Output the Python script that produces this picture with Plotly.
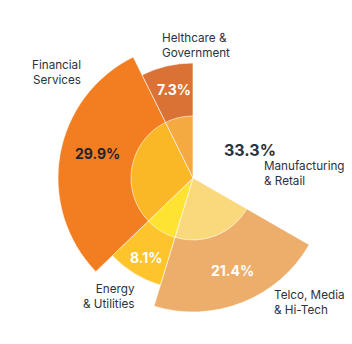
import plotly.graph_objects as go

# Industry share of revenue (percent), clockwise from 12 o'clock
sectors = ["Manufacturing & Retail", "Telco, Media & Hi-Tech", "Energy & Utilities",
           "Financial Services", "Helthcare & Government"]
shares = [33.3, 21.4, 8.1, 29.9, 7.3]

# radial extent of each petal (outer ring) and the common inner disc
outer_len = [0, 134, 112, 135, 115]
inner_len = [0, 62, 62, 62, 62]

outer_colors = ["rgba(0,0,0,0)", "#EDAE6B", "#FDC52B", "#F37E21", "#DA7235"]
inner_colors = ["rgba(0,0,0,0)", "#FAD97C", "#FEE333", "#FBB826", "#F4AA40"]

# angular layout derived from the shares
total = sum(shares)
widths = [s / total * 360 for s in shares]
starts = [sum(widths[:i]) for i in range(len(widths))]
centers = [st + w / 2 for st, w in zip(starts, widths)]

fig = go.Figure()
fig.add_trace(go.Barpolar(
    r=outer_len, theta=centers, width=widths,
    marker=dict(color=outer_colors, line=dict(color="white", width=0.6)),
    hoverinfo="skip", showlegend=False,
))
fig.add_trace(go.Barpolar(
    r=inner_len, theta=centers, width=widths,
    marker=dict(color=inner_colors, line=dict(color="white", width=0.6)),
    hoverinfo="skip", showlegend=False,
))

W, H = 352, 344
cx, cy, R = 193, 178, 150

fig.update_layout(
    width=W, height=H,
    margin=dict(l=0, r=0, t=0, b=0),
    paper_bgcolor="white",
    plot_bgcolor="white",
    polar=dict(
        domain=dict(x=[(cx - R) / W, (cx + R) / W], y=[(H - cy - R) / H, (H - cy + R) / H]),
        bgcolor="rgba(0,0,0,0)",
        barmode="overlay",
        bargap=0,
        radialaxis=dict(range=[0, R], visible=False, showgrid=False),
        angularaxis=dict(rotation=90, direction="clockwise", visible=False, showgrid=False),
    ),
)

dark = "#2B3240"
name_font = dict(family="Inter, Lato, sans-serif", size=11.7, color=dark)


def px(x, y):
    return x / W, 1 - y / H


# category labels
name_labels = [
    ("Helthcare &<br>Government", 160, 45, "left"),
    ("Financial<br>Services", 83, 73, "right"),
    ("Manufacturing<br>& Retail", 262, 173, "left"),
    ("Energy<br>& Utilities", 137, 296, "right"),
    ("Telco, Media<br>& Hi-Tech", 272, 302, "left"),
]
for text, x, y, align in name_labels:
    ax, ay = px(x, y)
    fig.add_annotation(x=ax, y=ay, xref="paper", yref="paper", text=text,
                       showarrow=False, xanchor=align, yanchor="middle", align=align,
                       font=name_font)

# percentage labels
pct_pos = {
    "Manufacturing & Retail": (250, 150, dark, 16),
    "Telco, Media & Hi-Tech": (232, 270, "white", 14),
    "Energy & Utilities": (146, 257, "white", 14),
    "Financial Services": (98, 153, "#1F2430", 14),
    "Helthcare & Government": (174, 89, "white", 14),
}
for name, val in zip(sectors, shares):
    x, y, col, sz = pct_pos[name]
    ax, ay = px(x, y)
    fig.add_annotation(x=ax, y=ay, xref="paper", yref="paper", text=f"<b>{val:.1f}%</b>",
                       showarrow=False, xanchor="center", yanchor="middle",
                       font=dict(family="Inter, Lato, sans-serif", size=sz, color=col))

fig.write_html("out.html")
